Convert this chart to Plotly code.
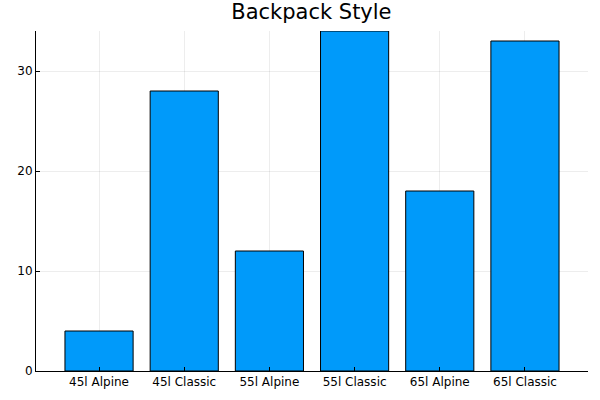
import plotly.graph_objects as go

styles = ["45l Alpine", "45l Classic", "55l Alpine", "55l Classic", "65l Alpine", "65l Classic"]
counts = [4, 28, 12, 34, 18, 33]
y_ticks = [0, 10, 20, 30]

fig = go.Figure()
fig.add_trace(go.Bar(
    x=list(range(len(styles))), y=counts, width=0.8,
    marker=dict(color="#009AFA", line=dict(color="black", width=1)),
))

fig.update_layout(
    width=600, height=400,
    margin=dict(l=36, r=12, t=31, b=29, autoexpand=False),
    plot_bgcolor="white", paper_bgcolor="white",
    font=dict(family="DejaVu Sans", size=12, color="black"),
    title=dict(text="Backpack Style", x=0.519, xanchor="center", y=0.972, yanchor="middle",
               font=dict(size=21, color="black")),
    showlegend=False,
)
fig.update_xaxes(
    range=[-0.74, 5.74], tickvals=list(range(len(styles))), ticktext=styles,
    showgrid=True, gridcolor="rgba(0,0,0,0.07)", gridwidth=0.5,
    showline=True, linecolor="black", linewidth=1, ticks="inside", ticklen=4,
    tickcolor="black", zeroline=False, automargin=False,
)
fig.update_yaxes(
    range=[0, 34], tickvals=y_ticks,
    showgrid=True, gridcolor="rgba(0,0,0,0.07)", gridwidth=0.5,
    showline=True, linecolor="black", linewidth=1, ticks="inside", ticklen=4,
    tickcolor="black", zeroline=False, automargin=False,
)

# drop the default page margin so the figure sits at the window's corner
fig.write_html("out.html", config={"displayModeBar": False},
               post_script="document.body.style.margin='0';")
